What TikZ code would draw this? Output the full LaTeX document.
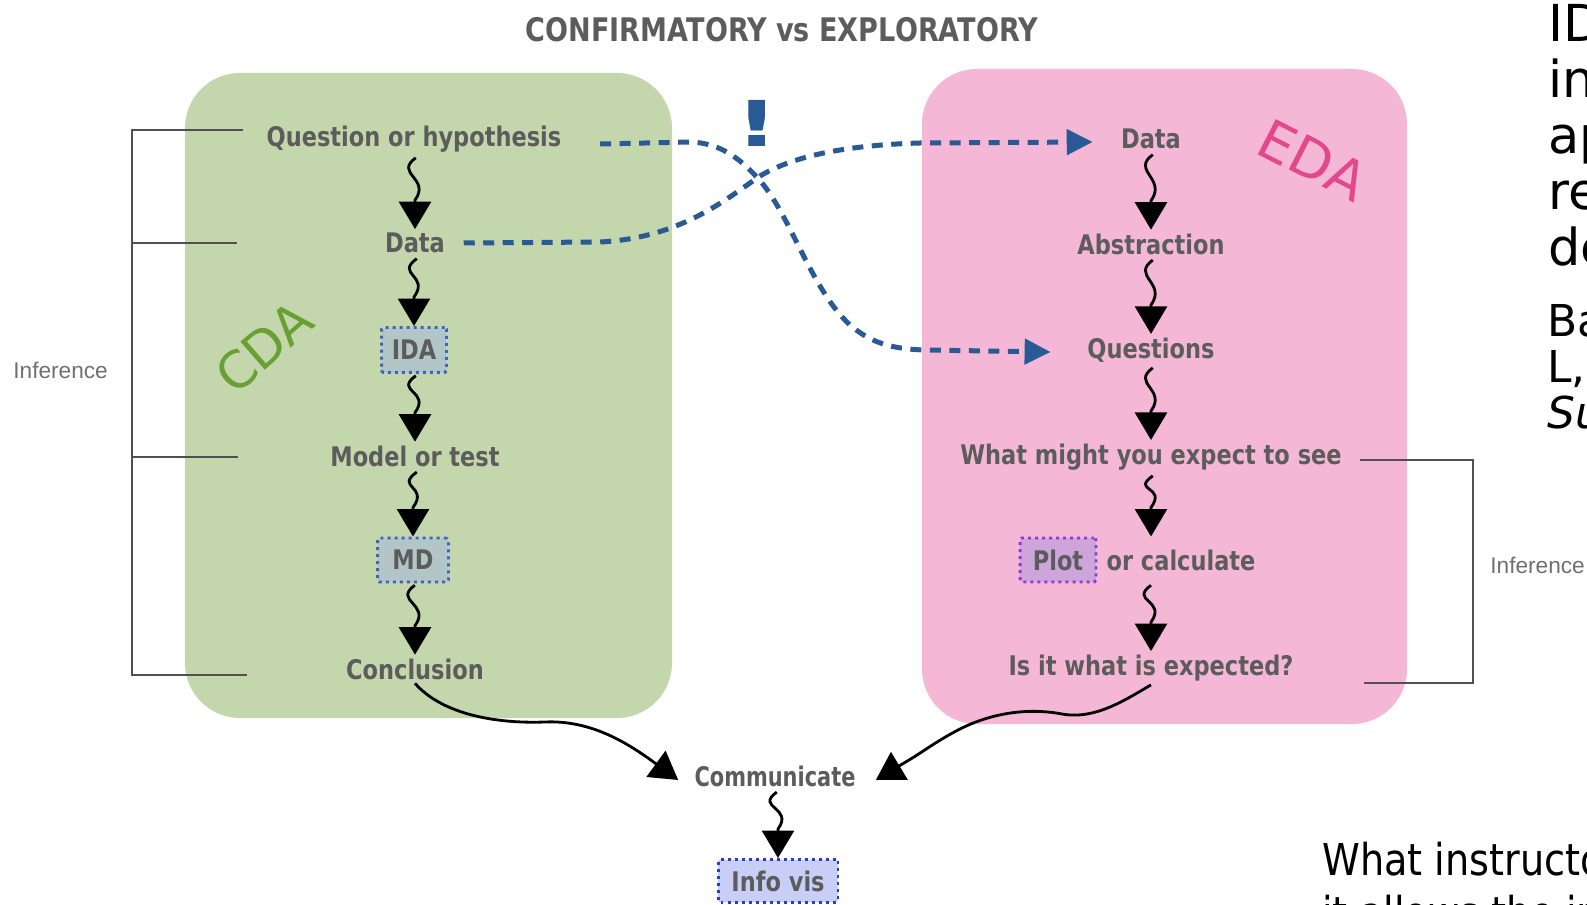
\documentclass[tikz,border=0pt]{standalone}
\usepackage{fontspec}
\setmainfont{DejaVu Sans}
\newfontfamily\arialf{Liberation Sans}
\usetikzlibrary{arrows.meta,calc}
\definecolor{cdagreen}{RGB}{196,214,172}
\definecolor{edapink}{RGB}{244,184,214}
\definecolor{hwgray}{RGB}{92,92,92}
\definecolor{dblue}{RGB}{42,90,150}
\definecolor{idafill}{RGB}{178,198,200}
\definecolor{idaborder}{RGB}{60,100,200}
\definecolor{plotfill}{RGB}{205,165,218}
\definecolor{plotborder}{RGB}{140,60,210}
\definecolor{infofill}{RGB}{200,206,246}
\definecolor{infoborder}{RGB}{40,60,205}
\definecolor{cdatext}{RGB}{104,160,52}
\definecolor{edatext}{RGB}{228,72,140}
\definecolor{brgray}{RGB}{80,80,80}
\definecolor{inftext}{RGB}{112,112,112}
\newcommand\hw[1]{\scalebox{1}[1.2]{#1}}
\newcommand\nar[1]{\scalebox{0.87}[1]{#1}}
\newcommand\squig[2]{\draw[sq] ([xshift=1pt,yshift=-1pt]#1.south) .. controls +(-22,16) and +(16,-22) .. ([yshift=0.58cm]#2.north) -- (#2.north);}
\begin{document}
\begin{tikzpicture}[x=0.02cm,y=-0.02cm,
  lbl/.style={font=\fontsize{12.8}{14}\selectfont\bfseries, text=hwgray, inner sep=2pt},
  ttl/.style={font=\fontsize{15.4}{18}\selectfont\bfseries, text=hwgray},
  dotbox/.style={lbl, draw, line width=1.7pt, dash pattern=on 1.7pt off 2.3pt, rounded corners=1pt},
  sq/.style={line width=1.6pt, black, -{Triangle[width=0.64cm,length=0.55cm]}},
  da/.style={dblue, line width=0.1cm, dash pattern=on 0.22cm off 0.17cm, -{Triangle[width=0.5cm,length=0.52cm]}},
  br/.style={brgray, line width=1.2pt},
  inf/.style={font=\arialf\fontsize{12.9}{14}\selectfont, text=inftext, inner sep=0},
  big/.style={font=\fontsize{29}{32}\selectfont, anchor=base west, inner sep=0},
  small/.style={font=\fontsize{25}{28}\selectfont, anchor=base west, inner sep=0},
  low/.style={font=\fontsize{25}{28}\selectfont, anchor=base west, inner sep=0},
]
\useasboundingbox (0,0) rectangle (1587,905);
\fill[white] (0,0) rectangle (1587,905);

% panels
\fill[cdagreen, rounded corners=1.1cm] (185,73) rectangle (672,718);
\fill[edapink, rounded corners=1.1cm] (922,69) rectangle (1407,724);

% title
\node[ttl] (title) at (782,30) {\hw{CONFIRMATORY vs EXPLORATORY}};

% left column
\node[lbl] (q) at (414,139) {\hw{Question or hypothesis}};
\node[lbl] (ldata) at (415,243) {\hw{Data}};
\node[dotbox, draw=idaborder, fill=idafill, minimum width=1.3cm, minimum height=0.9cm] (ida) at (414,350) {\hw{IDA}};
\node[lbl] (model) at (415,456) {\hw{Model or test}};
\node[dotbox, draw=idaborder, fill=idafill, minimum width=1.42cm, minimum height=0.88cm] (md) at (413,560) {\hw{MD}};
\node[lbl] (concl) at (415,669) {\hw{Conclusion}};

% right column
\node[lbl] (rdata) at (1151,139) {\hw{Data}};
\node[lbl] (abstr) at (1151,244) {\hw{Abstraction}};
\node[lbl] (quest) at (1151,350) {\hw{Questions}};
\node[lbl] (what) at (1151,457) {\hw{What might you expect to see}};
\node[dotbox, draw=plotborder, fill=plotfill, minimum width=1.52cm, minimum height=0.88cm] (plot) at (1058,560) {\hw{Plot}};
\node[lbl, anchor=west] (orcalc) at ([xshift=3pt]plot.east) {\hw{or calculate}};
\node[lbl] (isit) at (1151,668) {\hw{Is it what is expected?}};
\coordinate (pcn) at (what |- plot.north);
\coordinate (pcs) at (what |- plot.south);

% bottom
\node[lbl] (comm) at (775,776) {\hw{\scalebox{0.93}[1]{Communicate}}};
\node[dotbox, draw=infoborder, fill=infofill, minimum width=2.4cm, minimum height=0.86cm] (info) at (778,881) {\hw{Info vis}};

% handwritten tags
\node[font=\fontsize{29}{34}\selectfont, text=cdatext, rotate=41] (cda) at (264,347) {CDA};
\node[font=\fontsize{31}{36}\selectfont, text=edatext, rotate=-27] (eda) at (1313,160) {EDA};
\node[font=\fontsize{36}{40}\selectfont\bfseries, text=dblue] (excl) at (757,123) {\scalebox{1.5}[1]{!}};

% squiggly arrows
\squig{q}{ldata}
\squig{ldata}{ida}
\squig{ida}{model}
\squig{model}{md}
\squig{md}{concl}
\squig{rdata}{abstr}
\squig{abstr}{quest}
\squig{quest}{what}
\squig{what}{pcn}
\draw[sq] ([yshift=-1pt]pcs) .. controls +(-22,16) and +(16,-22) .. ([yshift=0.58cm]isit.north) -- (isit.north);
\squig{comm}{info}

% big curves to Communicate
\draw[sq] (concl.south) .. controls (440,712) and (490,724) .. (545,722) .. controls (590,720) and (625,742) .. (648,758) -- ([xshift=-0.25cm,yshift=-0.08cm]comm.west);
\draw[sq] (isit.south) .. controls (1125,700) and (1095,720) .. (1062,714) .. controls (1030,708) and (995,712) .. (962,728) .. controls (942,738) and (928,748) .. (914,757) -- ([xshift=0.33cm,yshift=-0.08cm]comm.east);

% dashed crossings
\draw[da] ([xshift=0.7cm,yshift=-0.1cm]q.east) -- (690,142) .. controls (722,143) and (742,160) .. (762,183) .. controls (792,220) and (812,290) .. (850,325) .. controls (870,342) and (890,349) .. (925,350) -- ([xshift=-0.66cm,yshift=-0.04cm]quest.west);
\draw[da] ([xshift=0.3cm]ldata.east) -- (600,242) .. controls (680,238) and (725,200) .. (760,176) .. controls (795,155) and (850,145) .. (920,143) -- ([xshift=-0.49cm,yshift=-0.06cm]rdata.west);

% brackets
\draw[br] (243,130) -- (132,130) -- (132,675) -- (247,675);
\draw[br] (132,243) -- (237,243);
\draw[br] (132,457) -- (238,457);
\draw[br] (1360,460) -- (1473,460) -- (1473,683) -- (1364,683);
\node[inf, anchor=west] (infl) at (13,370) {Inference};
\node[inf, anchor=west] (infr) at (1490,565) {Inference};

% cut-off slide text on the right
\node[big] (t1) at (1548,42) {ID};
\node[big] (t2) at (1548,98) {in};
\node[big] (t3) at (1548,154) {ap};
\node[big] (t4) at (1548,210) {re};
\node[big] (t5) at (1548,266) {de};
\node[small] (t6) at (1547,337) {Ba};
\node[small] (t7) at (1547,383) {L,};
\node[small, font=\fontsize{25}{28}\selectfont\itshape] (t8) at (1547,429) {Su};
\node[low] (b1) at (1322,875) {\nar{What instructo}};
\node[low] (b2) at (1322,928) {\nar{it allows the in}};
\end{tikzpicture}
\end{document}
